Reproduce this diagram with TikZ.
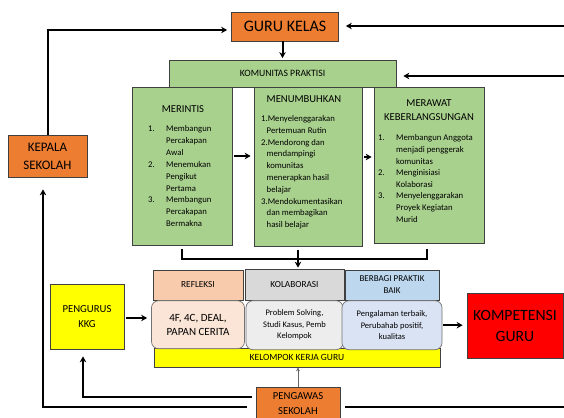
\documentclass[tikz,border=0pt]{standalone}
\usepackage{fontspec}
\setmainfont{Carlito}
\usetikzlibrary{arrows.meta, positioning}

\definecolor{oranye}{HTML}{ED7D31}
\definecolor{hijau}{HTML}{A9D18E}
\definecolor{persik}{HTML}{F8CBAD}
\definecolor{persikmuda}{HTML}{FBE5D6}
\definecolor{abu}{HTML}{D9D9D9}
\definecolor{abumuda}{HTML}{EDEDED}
\definecolor{biru}{HTML}{BDD7EE}
\definecolor{birumuda}{HTML}{DAE3F3}
\definecolor{kuning}{HTML}{FFFF00}
\definecolor{merah}{HTML}{FF0000}

\newcommand{\ukuran}[2]{\fontsize{#1}{#2}\selectfont}

\tikzset{
  kotak/.style={draw=black!75, line width=0.7pt, inner sep=0pt, align=center},
  jingga/.style={kotak, fill=oranye},
  hijaubox/.style={kotak, fill=hijau},
  badan/.style={kotak, draw=black!55, rounded corners=7pt},
  judul/.style={inner sep=0pt, align=center, font=\ukuran{10.6}{14}},
  daftar/.style={inner sep=0pt, anchor=north west},
  panah/.style={->, line width=2pt},
  garis/.style={line width=2pt},
}

\begin{document}
\begin{tikzpicture}[x=1pt,y=-1pt,>={Stealth[length=6pt,width=6.5pt]}]
\useasboundingbox (0,0) rectangle (564,417);

% atas
\node[jingga, minimum width=107, minimum height=29, font=\ukuran{16}{19}] (guru) at (285,26.5) {GURU KELAS};
\node[hijaubox, minimum width=227, minimum height=27, font=\ukuran{9.7}{12}] (komunitas) at (282.5,73.5) {KOMUNITAS PRAKTISI};
\node[jingga, minimum width=79, minimum height=42, font=\ukuran{13}{18}] (kepala) at (47.5,156) {KEPALA\\SEKOLAH};

% tiga tahap
\node[hijaubox, minimum width=100, minimum height=158] (merintis) at (182,166) {};
\node[hijaubox, minimum width=108, minimum height=159] (menumbuhkan) at (308,166.5) {};
\node[hijaubox, minimum width=110, minimum height=156] (merawat) at (429,165) {};

\node[judul] (merintisJ) at (183,109) {MERINTIS};
\node[judul] (menumbuhkanJ) at (304,99) {MENUMBUHKAN};
\node[judul] (merawatJ) at (429,110) {MERAWAT\\KEBERLANGSUNGAN};

\node[daftar, font=\ukuran{8.7}{11.9}] (merintisL) at (148,123) {%
\begin{tabular}{@{}p{18pt}@{}l@{}}
1. & Membangun\\ & Percakapan\\ & Awal\\
2. & Menemukan\\ & Pengikut\\ & Pertama\\
3. & Membangun\\ & Percakapan\\ & Bermakna
\end{tabular}};
\node[daftar, font=\ukuran{8.7}{11.8}] (menumbuhkanL) at (261,113) {%
\begin{tabular}{@{}l@{}}
1.Menyelenggarakan\\ \hspace*{5.5pt}Pertemuan Rutin\\
2.Mendorong dan\\ \hspace*{5.5pt}mendampingi\\ \hspace*{5.5pt}komunitas\\
\hspace*{5.5pt}menerapkan hasil\\ \hspace*{5.5pt}belajar\\
3.Mendokumentasikan\\ \hspace*{5.5pt}dan membagikan\\ \hspace*{5.5pt}hasil belajar
\end{tabular}};
\node[daftar, font=\ukuran{8.7}{11.6}] (merawatL) at (378,132.5) {%
\begin{tabular}{@{}p{18pt}@{}l@{}}
1. & Membangun Anggota\\ & menjadi penggerak\\ & komunitas\\
2. & Menginisiasi\\ & Kolaborasi\\
3. & Menyelenggarakan\\ & Proyek Kegiatan\\ & Murid
\end{tabular}};

% kelompok kerja guru
\node[kotak, fill=kuning, minimum width=286, minimum height=19, font=\ukuran{9.5}{12}] (kkg) at (297,357.5) {KELOMPOK KERJA GURU};
\node[kotak, fill=persik, minimum width=90, minimum height=30, font=\ukuran{9.3}{12}] (refleksi) at (198,285) {REFLEKSI};
\node[kotak, fill=abu, minimum width=99, minimum height=31, font=\ukuran{9.3}{12}] (kolaborasi) at (294.5,284.5) {KOLABORASI};
\node[kotak, fill=biru, minimum width=94, minimum height=30, font=\ukuran{9}{12}] (berbagi) at (392,285) {BERBAGI PRAKTIK\\BAIK};
\node[badan, fill=persikmuda, minimum width=93, minimum height=48, below=0pt of refleksi, font=\ukuran{11}{14}] (cerita) {4F, 4C, DEAL,\\PAPAN CERITA};
\node[badan, fill=abumuda, minimum width=97, minimum height=49, below=0pt of kolaborasi, font=\ukuran{8.5}{11.5}] (solving) {Problem Solving,\\Studi Kasus, Pemb\\Kelompok};
\node[badan, fill=birumuda, minimum width=100, minimum height=49, below=0pt of berbagi, font=\ukuran{8.5}{11.5}] (pengalaman) {Pengalaman terbaik,\\Perubahab positif,\\kualitas};

\node[kotak, fill=kuning, minimum width=74, minimum height=65, font=\ukuran{10.7}{15}] (pengurus) at (87,316.5) {PENGURUS\\KKG};
\node[kotak, fill=merah, minimum width=96, minimum height=65, font=\ukuran{15.7}{21}] (kompetensi) at (515,325.5) {KOMPETENSI\\GURU};
\node[jingga, minimum width=84, minimum height=33, font=\ukuran{10.7}{14.5}] (pengawas) at (298,403.5) {PENGAWAS\\SEKOLAH};

\coordinate (kananA) at (564,26);
\coordinate (kananB) at (564,76);
\coordinate (kananC) at (564,407);
\coordinate (simpul) at (298,259);

% panah
\draw[panah, shorten >=1.5pt] (guru.south -| komunitas.north) -- (komunitas.north);
\draw[panah, shorten >=4pt] (kepala.north) |- ([yshift=-3.5pt]guru.west);
\draw[panah, shorten >=7pt] (kananA) -- (kananA -| guru.east);
\draw[panah, shorten >=7pt] (kananB) -- (kananB -| komunitas.east);
\draw[panah, shorten <=2pt, shorten >=3pt] ([yshift=10pt]merintis.east) -- ([yshift=10pt]merintis.east -| menumbuhkan.west);
\draw[panah, shorten <=2pt, shorten >=2pt] ([yshift=9.5pt]menumbuhkan.east) -- ([yshift=9.5pt]menumbuhkan.east -| merawat.west);
\draw[garis] ([yshift=-4pt]merintis.south) |- (simpul) -| ([xshift=-2pt,yshift=-6pt]merawat.south);
\draw[panah, shorten >=1pt] ([yshift=9pt]simpul) -- (simpul |- kolaborasi.north);
\draw[panah, shorten <=2pt, shorten >=4pt] ([yshift=-1.5pt]pengurus.east) -- ([yshift=-1.5pt]pengurus.east -| cerita.west);
\draw[panah, shorten <=1pt, shorten >=4pt] (pengalaman.east) -- (pengalaman.east -| kompetensi.west);
\draw[->, line width=0.8pt, draw=black!60, >={Stealth[length=4pt,width=4pt]}] (pengawas.north) -- (pengawas.north |- kkg.south);
\draw[panah, shorten <=4pt, shorten >=7pt] ([yshift=6.5pt]pengawas.west) -| ([xshift=-4pt]pengurus.south);
\draw[panah, shorten <=9pt, shorten >=12pt] ([yshift=-3.5pt]pengawas.west) -| ([xshift=-4.5pt]kepala.south);
\draw[garis, shorten <=5pt] ([yshift=-3.5pt]pengawas.east) -- (kananC);
\end{tikzpicture}
\end{document}
